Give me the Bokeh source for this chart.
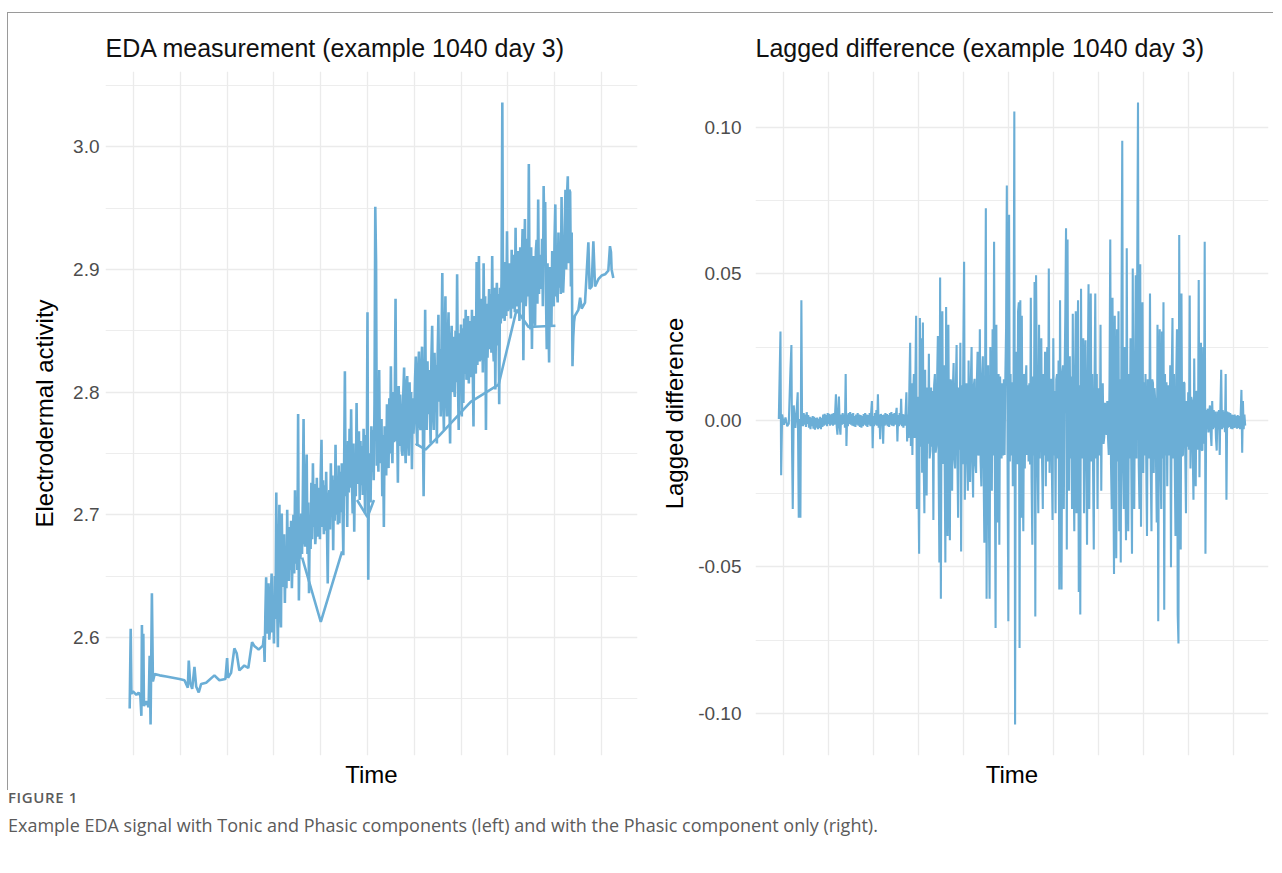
import math
from bokeh.plotting import figure
from bokeh.models import Range1d, FixedTicker, NumeralTickFormatter, Div
from bokeh.layouts import row, column
from bokeh.embed import file_html
from bokeh.resources import INLINE

# ---------------- data (time in minutes from the first hourly grid line) ----------------
# EDA signal: irregular start, then one reading per minute through the busy part, then the end
eda_head_minutes = [
    -5.1, -3.8, -2.9, -0.9, 3.5, 6.4, 8.6, 9.9, 10.6, 11.5, 12.4, 13.2, 16.2, 19.2, 20.5, 21.7, 23.4, 24.7, 26.9, 33.3,
    41.8, 50.3, 58.8, 65.2, 69.5, 70.7, 72.5, 75.1, 78.0, 80.2, 83.5, 86.6, 93.0, 103.6, 110.0, 117.7, 119.9, 121.1, 125.0, 129.2,
    132.2, 135.6, 142.0, 147.1, 151.9, 154.8, 160.3, 165.4,
]
eda_head_values = [
    2.542, 2.607, 2.554, 2.556, 2.553, 2.555, 2.552, 2.536, 2.610, 2.548, 2.603, 2.544, 2.548, 2.543, 2.585, 2.529, 2.636, 2.564, 2.570, 2.569,
    2.568, 2.567, 2.566, 2.565, 2.559, 2.581, 2.563, 2.558, 2.576, 2.560, 2.555, 2.562, 2.563, 2.569, 2.565, 2.566, 2.583, 2.567, 2.571, 2.591,
    2.587, 2.573, 2.577, 2.575, 2.596, 2.593, 2.590, 2.593,
]
eda_dense_first_minute = 166
eda_dense_values = [
    2.594, 2.601, 2.580, 2.620, 2.649, 2.603, 2.625, 2.644, 2.598, 2.608, 2.632, 2.652, 2.604, 2.628, 2.595, 2.650, 2.615, 2.718, 2.630, 2.592,
    2.660, 2.708, 2.622, 2.608, 2.701, 2.655, 2.641, 2.684, 2.628, 2.672, 2.640, 2.704, 2.650, 2.646, 2.690, 2.655, 2.695, 2.640, 2.668, 2.700,
    2.652, 2.720, 2.660, 2.702, 2.655, 2.782, 2.630, 2.690, 2.664, 2.701, 2.668, 2.712, 2.778, 2.680, 2.674, 2.720, 2.749, 2.668, 2.710, 2.636,
    2.700, 2.672, 2.726, 2.680, 2.742, 2.690, 2.725, 2.676, 2.687, 2.730, 2.682, 2.722, 2.714, 2.680, 2.733, 2.761, 2.690, 2.728, 2.684, 2.724,
    2.687, 2.735, 2.690, 2.644, 2.710, 2.720, 2.688, 2.742, 2.700, 2.732, 2.671, 2.728, 2.695, 2.757, 2.700, 2.731, 2.692, 2.740, 2.693, 2.735,
    2.702, 2.742, 2.705, 2.667, 2.738, 2.817, 2.715, 2.752, 2.690, 2.760, 2.718, 2.770, 2.722, 2.786, 2.728, 2.701, 2.758, 2.686, 2.748, 2.715,
    2.791, 2.725, 2.742, 2.768, 2.712, 2.760, 2.724, 2.756, 2.716, 2.770, 2.730, 2.701, 2.765, 2.728, 2.865, 2.647, 2.750, 2.722, 2.710, 2.772,
    2.735, 2.769, 2.728, 2.790, 2.951, 2.907, 2.740, 2.769, 2.735, 2.818, 2.742, 2.753, 2.778, 2.715, 2.765, 2.690, 2.772, 2.758, 2.732, 2.790,
    2.745, 2.738, 2.795, 2.750, 2.821, 2.762, 2.742, 2.800, 2.759, 2.792, 2.876, 2.760, 2.780, 2.726, 2.805, 2.756, 2.798, 2.780, 2.752, 2.748,
    2.800, 2.820, 2.760, 2.742, 2.806, 2.813, 2.762, 2.748, 2.808, 2.764, 2.800, 2.737, 2.795, 2.766, 2.780, 2.810, 2.829, 2.770, 2.756, 2.815,
    2.833, 2.775, 2.769, 2.818, 2.837, 2.776, 2.715, 2.780, 2.867, 2.790, 2.769, 2.825, 2.782, 2.818, 2.790, 2.758, 2.828, 2.854, 2.786, 2.769,
    2.832, 2.802, 2.822, 2.758, 2.830, 2.863, 2.792, 2.835, 2.780, 2.840, 2.897, 2.798, 2.769, 2.836, 2.878, 2.800, 2.780, 2.842, 2.865, 2.795,
    2.758, 2.838, 2.854, 2.800, 2.845, 2.805, 2.796, 2.850, 2.808, 2.896, 2.812, 2.769, 2.848, 2.818, 2.855, 2.780, 2.852, 2.791, 2.860, 2.815,
    2.867, 2.810, 2.815, 2.862, 2.807, 2.858, 2.845, 2.812, 2.867, 2.820, 2.772, 2.862, 2.851, 2.815, 2.906, 2.822, 2.870, 2.911, 2.825, 2.829,
    2.876, 2.865, 2.816, 2.905, 2.830, 2.878, 2.769, 2.872, 2.828, 2.857, 2.884, 2.835, 2.880, 2.832, 2.911, 2.840, 2.825, 2.885, 2.802, 2.870,
    2.889, 2.838, 2.880, 2.790, 2.885, 2.856, 2.892, 3.036, 2.860, 2.884, 2.858, 2.906, 2.862, 2.931, 2.866, 2.870, 2.905, 2.895, 2.860, 2.916,
    2.868, 2.875, 2.912, 2.865, 2.934, 2.872, 2.870, 2.915, 2.880, 2.858, 2.918, 2.873, 2.905, 2.933, 2.826, 2.905, 2.941, 2.870, 2.884, 2.925,
    2.878, 2.986, 2.880, 2.851, 2.918, 2.835, 2.900, 2.911, 2.862, 2.854, 2.915, 2.924, 2.872, 2.957, 2.880, 2.912, 2.899, 2.884, 2.925, 2.870,
    2.968, 2.924, 2.955, 2.880, 2.835, 2.905, 2.868, 2.824, 2.902, 2.884, 2.854, 2.915, 2.872, 2.870, 2.925, 2.953, 2.878, 2.884, 2.873, 2.930,
    2.885, 2.911, 2.880, 2.959, 2.892, 2.881, 2.897, 2.935, 2.965, 2.900, 2.960, 2.976, 2.905, 2.965, 2.963, 2.886, 2.930, 2.821, 2.845, 2.857,
    2.862,
]
eda_tail_minutes = [570.6, 572.8, 574.8, 579.1, 583.4, 585.0, 587.6, 589.8, 591.9, 596.2, 600.4, 604.8, 609.0, 611.1, 612.4, 613.2, 615.4]
eda_tail_values = [2.867, 2.877, 2.868, 2.873, 2.922, 2.884, 2.886, 2.923, 2.886, 2.892, 2.895, 2.896, 2.899, 2.919, 2.914, 2.900, 2.893]

# a few long straight joins of the tonic signal (NaN separates the pieces)
eda_join_minutes = [216.2, 240.1, 267.4, float("nan"), 286.6, 300.0, 308.3, float("nan"),
                    361.7, 374.5, 391.5, 432.4, 468.2, 491.2, 506.6, 541.1]
eda_join_values = [2.665, 2.6125, 2.670, float("nan"), 2.712, 2.698, 2.712, float("nan"),
                   2.758, 2.753, 2.764, 2.792, 2.806, 2.867, 2.853, 2.854]

# Lagged difference: irregular start, then one reading per minute
diff_head_minutes = [-6.2, -4.0, -3.1, -1.8, 0.5, 2.7, 5.0, 7.1, 9.3, 10.6, 11.5, 12.4, 13.7, 15.9, 17.5, 19.0, 20.4, 21.7, 22.6, 23.9, 24.8]
diff_head_values = [0.0005, 0.0303, -0.0187, 0.0020, -0.0015, 0.0010, -0.0020, -0.0011, 0.0173, 0.0257, -0.0103,
                    -0.0302, 0.0051, -0.0026, 0.0030, 0.0096, -0.0332, 0.0005, -0.0332, 0.0410, 0.0005]
diff_regular_first_minute = 25
diff_regular_values = [
    # 25 - 165 (quiet stretch)
    0.0015, -0.0020, 0.0025, -0.0015, 0.0020, -0.0022, 0.0028, -0.0012, 0.0018, -0.0025, 0.0012, -0.0030, 0.0010, -0.0020, 0.0015, -0.0028, 0.0012, -0.0032, 0.0008, -0.0025,
    0.0010, -0.0030, 0.0005, -0.0026, 0.0012, -0.0030, 0.0008, -0.0022, 0.0020, -0.0018, 0.0022, -0.0015, 0.0018, -0.0020, 0.0025, -0.0012, 0.0022, -0.0018, 0.0020, -0.0015,
    0.0022, -0.0018, 0.0025, -0.0015, 0.0030, 0.0089, -0.0020, -0.0049, 0.0025, 0.0081, -0.0020, -0.0049, 0.0020, -0.0015, 0.0025, -0.0012, 0.0020, -0.0025, 0.0158, -0.0087,
    0.0020, -0.0020, 0.0025, -0.0012, 0.0028, -0.0015, 0.0022, -0.0018, 0.0025, -0.0020, 0.0015, -0.0022, 0.0020, -0.0015, 0.0025, -0.0018, 0.0020, -0.0022, 0.0018, -0.0025,
    0.0015, -0.0020, 0.0022, -0.0015, 0.0025, -0.0018, 0.0020, -0.0022, 0.0018, -0.0015, 0.0025, -0.0020, 0.0028, 0.0066, -0.0095, 0.0015, -0.0020, 0.0025, -0.0015, 0.0035,
    -0.0018, 0.0089, -0.0025, 0.0020, -0.0064, 0.0022, -0.0015, 0.0018, -0.0080, 0.0020, -0.0018, 0.0025, -0.0015, 0.0022, -0.0020, 0.0018, -0.0022, 0.0025, -0.0015, 0.0028,
    -0.0018, 0.0022, -0.0020, 0.0025, -0.0015, 0.0020, 0.0043, -0.0072, 0.0018, -0.0020, 0.0025, -0.0015, 0.0074, -0.0020, 0.0022, -0.0025, 0.0020, -0.0018, 0.0030, 0.0096,
    -0.0072,
    # 166 - 563 (busy stretch)
    0.0020, -0.0060, 0.0120, 0.0265, -0.0087, 0.0127, -0.0118, 0.0080, 0.0158, -0.0060, 0.0140, 0.0357, -0.0302, 0.0081, -0.0200, -0.0455, 0.0349, -0.0090, 0.0280, -0.0179,
    0.0334, -0.0120, -0.0317, 0.0173, -0.0100, -0.0256, 0.0112, -0.0080, 0.0227, -0.0130, -0.0103, 0.0112, -0.0090, 0.0100, -0.0340, 0.0120, 0.0158, -0.0110, -0.0087, 0.0140,
    0.0288, -0.0150, -0.0485, 0.0487, -0.0608, 0.0150, 0.0372, -0.0149, 0.0188, -0.0110, -0.0485, 0.0387, -0.0100, -0.0394, 0.0326, -0.0120, -0.0409, 0.0140, 0.0127, -0.0240,
    0.0110, 0.0196, -0.0130, -0.0164, 0.0120, 0.0257, -0.0120, -0.0332, 0.0112, -0.0100, 0.0265, -0.0447, 0.0120, -0.0150, 0.0257, 0.0541, -0.0271, 0.0100, 0.0127, -0.0130,
    -0.0240, 0.0204, -0.0120, -0.0210, 0.0140, 0.0250, -0.0140, -0.0263, 0.0120, 0.0142, -0.0150, -0.0179, 0.0130, 0.0234, -0.0120, -0.0087, 0.0311, -0.0140, -0.0225, 0.0150,
    0.0219, -0.0160, -0.0417, 0.0150, 0.0724, -0.0608, 0.0120, 0.0188, -0.0302, -0.0608, 0.0250, -0.0130, -0.0240, 0.0311, -0.0120, 0.0609, -0.0140, -0.0708, 0.0326, -0.0140,
    -0.0348, 0.0158, -0.0424, 0.0150, 0.0066, -0.0130, 0.0127, -0.0120, 0.0140, -0.0118, 0.0150, 0.0311, 0.0801, -0.0150, -0.0685, 0.0701, -0.0140, 0.0158, -0.0120, 0.0130,
    -0.0225, 0.0150, 0.1054, -0.1037, 0.0140, 0.0234, -0.0150, 0.0372, 0.0403, -0.0776, 0.0410, -0.0332, 0.0357, -0.0150, -0.0378, 0.0158, -0.0164, 0.0130, 0.0188, -0.0118,
    0.0120, -0.0140, 0.0127, -0.0150, 0.0418, -0.0194, -0.0424, 0.0150, -0.0120, 0.0472, -0.0669, 0.0495, 0.0173, -0.0150, -0.0317, 0.0326, -0.0130, 0.0127, 0.0280, -0.0140,
    -0.0302, 0.0158, -0.0120, 0.0234, -0.0225, 0.0130, 0.0250, -0.0140, 0.0518, -0.0179, 0.0120, 0.0142, -0.0150, -0.0340, 0.0280, -0.0120, 0.0100, -0.0317, 0.0140, 0.0158,
    -0.0130, 0.0204, -0.0577, 0.0410, -0.0150, -0.0577, 0.0160, 0.0188, -0.0302, 0.0140, 0.0357, 0.0655, -0.0440, 0.0617, -0.0140, -0.0240, 0.0219, -0.0130, 0.0150, -0.0302,
    0.0364, -0.0150, -0.0378, 0.0150, 0.0372, -0.0317, 0.0130, 0.0410, -0.0585, 0.0120, -0.0662, 0.0449, -0.0130, 0.0158, 0.0280, -0.0317, 0.0150, 0.0273, -0.0130, -0.0424,
    0.0150, 0.0464, -0.0302, 0.0130, 0.0433, -0.0140, 0.0158, -0.0150, -0.0440, 0.0120, 0.0433, -0.0130, 0.0158, -0.0302, 0.0110, 0.0096, -0.0120, 0.0326, -0.0240, 0.0110,
    0.0127, -0.0080, -0.0057, 0.0060, 0.0020, -0.0050, 0.0066, -0.0060, -0.0118, 0.0130,
    0.0617, -0.0150, -0.0302, 0.0418, -0.0150, -0.0524, 0.0357, -0.0140, -0.0470, 0.0311, -0.0140, 0.0372, -0.0378, 0.0140, -0.0485, 0.0387, 0.0954, -0.0150, -0.0302, 0.0250,
    -0.0140, -0.0409, 0.0587, -0.0150, -0.0378, 0.0158, -0.0130, 0.0280, -0.0140, -0.0455, 0.0518, -0.0140, -0.0302, 0.0150, 0.0495, -0.0130, 0.0525, 0.1084, -0.0150, -0.0302,
    0.0533, -0.0363, 0.0150, 0.0403, -0.0179, 0.0130, -0.0120, 0.0158, -0.0140, -0.0394, 0.0140, 0.0127, -0.0130, 0.0433, -0.0150, -0.0378, 0.0140, 0.0127, -0.0179, 0.0110,
    0.0066, -0.0130, -0.0348, 0.0326, -0.0685, 0.0140, 0.0311, -0.0140, -0.0302, 0.0303, -0.0130, 0.0403, -0.0646, 0.0158, -0.0120, 0.0130, -0.0225, 0.0120, 0.0066, -0.0120,
    0.0188, -0.0501, 0.0150, 0.0349, -0.0130, 0.0158, -0.0140, -0.0394, 0.0140, 0.0311, -0.0662, -0.0761, 0.0632, -0.0130, -0.0440, 0.0433, -0.0120, -0.0118, 0.0130, 0.0127,
    -0.0110, -0.0317, 0.0066, -0.0090, 0.0096, -0.0100, 0.0426, -0.0164, 0.0080, 0.0066, -0.0100, -0.0271, 0.0211, -0.0090, -0.0225, 0.0100, 0.0096, -0.0100, 0.0479, -0.0194,
    0.0110, 0.0265, -0.0100, -0.0103, 0.0250, -0.0080, 0.0609, -0.0455,
    # 564 - 616 (settling)
    0.0035, -0.0030, 0.0040, -0.0041, 0.0030, 0.0051, -0.0040, -0.0087, 0.0066, -0.0030,
    0.0035, -0.0025, 0.0030, -0.0060, -0.0103, 0.0030, -0.0030, 0.0035, -0.0118, 0.0050,
    0.0173, -0.0030, 0.0035, -0.0025, 0.0030, -0.0040, 0.0158, -0.0271, 0.0030, -0.0025,
    0.0028, -0.0022, 0.0025, -0.0028, 0.0020, -0.0030, 0.0018, -0.0026, 0.0020, -0.0025,
    0.0015, -0.0028, 0.0018, -0.0026, 0.0015, -0.0030, 0.0020, 0.0104, -0.0110, 0.0066,
    -0.0030, 0.0020, -0.0018,
]

grid_minutes = [0, 60, 120, 180, 240, 300, 360, 420, 480, 540, 600]
eda_ticks = [2.6, 2.7, 2.8, 2.9, 3.0]
eda_minor_ticks = [2.55, 2.65, 2.75, 2.85, 2.95, 3.05]
diff_ticks = [-0.10, -0.05, 0.0, 0.05, 0.10]
diff_minor_ticks = [-0.075, -0.025, 0.025, 0.075]

eda_minutes = (eda_head_minutes
               + [eda_dense_first_minute + i for i in range(len(eda_dense_values))]
               + eda_tail_minutes)
eda_values = eda_head_values + eda_dense_values + eda_tail_values
diff_minutes = diff_head_minutes + [diff_regular_first_minute + i for i in range(len(diff_regular_values))]
diff_values = diff_head_values + diff_regular_values

# ---------------- styling ----------------
LINE = "#6BAED6"
GRID = "#EBEBEB"
FONT = "Liberation Sans"


def padded(vals, frac=0.05):
    finite = [v for v in vals if not math.isnan(v)]
    lo, hi = min(finite), max(finite)
    pad = (hi - lo) * frac
    return lo - pad, hi + pad


def make_panel(title, ylabel, xs, ys, yticks, yminor, fmt, width, left, right, label_standoff, tick_standoff):
    p = figure(
        width=width, height=777,
        x_range=Range1d(*padded(xs)), y_range=Range1d(*padded(ys)),
        output_backend="svg", toolbar_location=None,
        min_border_left=left, min_border_right=right, min_border_top=58, min_border_bottom=34,
        background_fill_color="white", border_fill_color="white", outline_line_color=None,
        title=title,
    )
    p.title.text_font = FONT
    p.title.text_font_size = "25px"
    p.title.text_font_style = "normal"
    p.title.text_color = "#111111"
    p.title.align = "left"
    p.title.offset = 0
    p.title.standoff = 19

    for ax in (p.xaxis[0], p.yaxis[0]):
        ax.major_tick_line_color = None
        ax.minor_tick_line_color = None
        ax.major_tick_out = 0
        ax.major_tick_in = 0
        ax.minor_tick_out = 0
        ax.minor_tick_in = 0
        ax.axis_line_color = None
        ax.axis_label_text_font = FONT
        ax.axis_label_text_font_size = "24px"
        ax.axis_label_text_font_style = "normal"
        ax.axis_label_text_color = "#000000"

    p.xaxis.ticker = FixedTicker(ticks=grid_minutes, minor_ticks=[])
    p.xaxis.major_label_text_font_size = "0px"
    p.xaxis.major_label_standoff = 0
    p.xaxis.axis_label = "Time"
    p.xaxis.axis_label_standoff = 5
    p.xgrid.grid_line_color = GRID
    p.xgrid.grid_line_width = 1.3

    p.yaxis.ticker = FixedTicker(ticks=yticks, minor_ticks=yminor)
    p.yaxis.formatter = NumeralTickFormatter(format=fmt)
    p.yaxis.major_label_text_font = FONT
    p.yaxis.major_label_text_font_size = "19px"
    p.yaxis.major_label_text_color = "#4D4D4D"
    p.yaxis.major_label_standoff = tick_standoff
    p.yaxis.axis_label = ylabel
    p.yaxis.axis_label_standoff = label_standoff
    p.ygrid.grid_line_color = GRID
    p.ygrid.grid_line_width = 1.3
    p.ygrid.minor_grid_line_color = GRID
    p.ygrid.minor_grid_line_width = 0.9
    return p


p1 = make_panel("EDA measurement (example 1040 day 3)", "Electrodermal activity",
                eda_minutes, eda_values, eda_ticks, eda_minor_ticks, "0.0",
                631, 97, 2, 12, 6)
p1.line(eda_join_minutes, eda_join_values, line_color=LINE, line_width=2.6)
p1.line(eda_minutes, eda_values, line_color=LINE, line_width=2.6)

p2 = make_panel("Lagged difference (example 1040 day 3)", "Lagged difference",
                diff_minutes, diff_values, diff_ticks, diff_minor_ticks, "0.00",
                634, 116, 5, 7, 14)
p2.line(diff_minutes, diff_values, line_color=LINE, line_width=2.1)

caption = Div(
    text=(
        '<div style="font-family:\'Open Sans\', sans-serif; color:#5b5b5b; margin-left:3px; margin-top:-6px;">'
        '<div style="font-size:15px; font-weight:600; letter-spacing:0.6px; line-height:16px;">FIGURE 1</div>'
        '<div style="font-size:18px; line-height:22px; margin-top:9px; white-space:nowrap;">'
        'Example EDA signal with Tonic and Phasic components (left) and with the Phasic component only (right).'
        '</div></div>'
    ),
    width=1270, height=70,
)

panels = row(p1, p2, styles={"margin-top": "12px", "margin-left": "7px",
                             "border-top": "1px solid #9a9a9a", "border-left": "1px solid #9a9a9a"})
layout = column(panels, caption)

open("out.html", "w").write(file_html(layout, INLINE))
